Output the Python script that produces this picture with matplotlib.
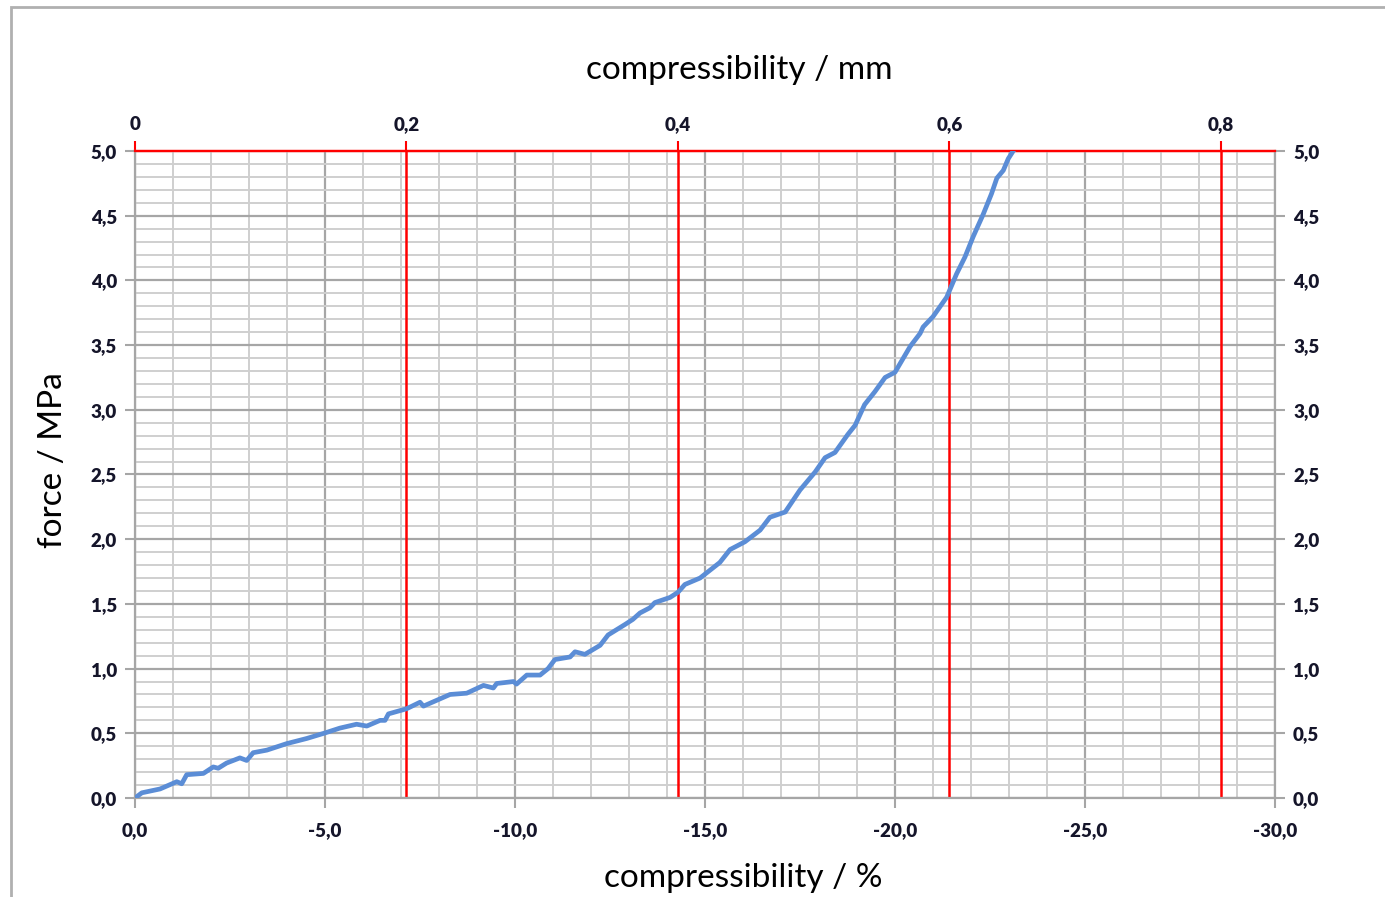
import matplotlib
matplotlib.use("Agg")
import matplotlib.pyplot as plt
from matplotlib.ticker import MultipleLocator, FuncFormatter
from matplotlib.patches import Rectangle

# ---- data ----
compress_pct = [0.0, -0.18, -0.66, -1.10, -1.23, -1.36, -1.80, -2.06, -2.19, -2.41, -2.76, -2.94,
                -3.11, -3.47, -3.99, -4.52, -4.97, -5.39, -5.83, -6.10, -6.45, -6.58, -6.67, -7.15,
                -7.50, -7.59, -8.29, -8.73, -9.17, -9.43, -9.52, -9.96, -10.04, -10.31, -10.66,
                -10.87, -11.05, -11.45, -11.58, -11.84, -12.24, -12.45, -12.89, -13.10, -13.29,
                -13.55, -13.68, -14.08, -14.29, -14.47, -14.87, -15.13, -15.39, -15.66, -16.05,
                -16.45, -16.71, -17.11, -17.50, -17.90, -18.16, -18.42, -18.76, -18.95, -19.20,
                -19.47, -19.74, -20.00, -20.26, -20.40, -20.66, -20.74, -21.00, -21.36, -21.62,
                -21.84, -22.06, -22.32, -22.54, -22.68, -22.85, -22.98, -23.11]
force_mpa = [0.0, 0.04, 0.07, 0.126, 0.11, 0.18, 0.19, 0.24, 0.23, 0.27, 0.31, 0.29,
             0.35, 0.37, 0.42, 0.46, 0.50, 0.54, 0.57, 0.556, 0.60, 0.60, 0.65, 0.69,
             0.74, 0.71, 0.80, 0.81, 0.87, 0.85, 0.885, 0.90, 0.88, 0.95, 0.95,
             1.00, 1.07, 1.09, 1.13, 1.11, 1.18, 1.26, 1.34, 1.38, 1.43,
             1.47, 1.51, 1.55, 1.59, 1.65, 1.70, 1.76, 1.82, 1.92, 1.98,
             2.07, 2.17, 2.21, 2.38, 2.52, 2.63, 2.67, 2.81, 2.88, 3.04,
             3.14, 3.25, 3.29, 3.42, 3.49, 3.59, 3.64, 3.72, 3.87, 4.05,
             4.18, 4.34, 4.51, 4.67, 4.79, 4.85, 4.94, 5.0]
sample_thickness_mm = 2.8
mm_ticks = [0.0, 0.2, 0.4, 0.6, 0.8]
mm_ticklabels = ["0", "0,2", "0,4", "0,6", "0,8"]

def pct_to_mm(p):
    return -p * sample_thickness_mm / 100.0

def mm_to_pct(m):
    return -m * 100.0 / sample_thickness_mm

plt.rcParams['font.family'] = ['Lato', 'DejaVu Sans']

fig = plt.figure(figsize=(13.85, 8.97), dpi=100)
ax = fig.add_axes([135/1385, 1-798/897, (1275-135)/1385, (798-151)/897])

major_grid = '#a6a6a6'
minor_grid = '#cfcfcf'
tick_color = '#15152a'

ax.set_xlim(0, -30)
ax.set_ylim(0, 5)
ax.xaxis.set_major_locator(MultipleLocator(5))
ax.xaxis.set_minor_locator(MultipleLocator(1))
ax.yaxis.set_major_locator(MultipleLocator(0.5))
ax.yaxis.set_minor_locator(MultipleLocator(0.1))
ax.grid(which='major', color=major_grid, lw=1.6, zorder=0)
ax.grid(which='minor', color=minor_grid, lw=1.4, zorder=0)
ax.set_axisbelow(True)

fmt1 = FuncFormatter(lambda v, p: f"{v:.1f}".replace('.', ',').replace('-0,0', '0,0'))
ax.xaxis.set_major_formatter(fmt1)
ax.yaxis.set_major_formatter(fmt1)
ax.tick_params(which='minor', length=0)
ax.tick_params(which='major', direction='out', length=7, width=1.5, color=major_grid,
               labelsize=13.5, labelcolor=tick_color, pad=6)
ax.tick_params(axis='y', which='major', left=True, right=True, labelleft=True, labelright=True)
ax.tick_params(axis='x', which='major', top=False, pad=10)
for lab in ax.get_xticklabels() + ax.get_yticklabels():
    lab.set_fontweight('heavy')

for s in ['left', 'right', 'bottom']:
    ax.spines[s].set_color(major_grid)
    ax.spines[s].set_linewidth(1.6)
ax.spines['top'].set_color('red')
ax.spines['top'].set_linewidth(1.6)

# red reference lines from the mm axis
for m in mm_ticks[1:]:
    ax.axvline(mm_to_pct(m), color='red', lw=1.8, zorder=2)

ax.plot(compress_pct, force_mpa, color='#5b8dd6', lw=3.4, zorder=3, solid_joinstyle='round')

sec = ax.secondary_xaxis('top', functions=(pct_to_mm, mm_to_pct))
sec.set_xticks(mm_ticks)
sec.set_xticklabels(mm_ticklabels)
sec.tick_params(direction='out', length=7, width=1.5, color='red', labelsize=13.5,
                labelcolor=tick_color, pad=6)
for lab in sec.get_xticklabels():
    lab.set_fontweight('heavy')
sec.spines['top'].set_color('red')
sec.spines['top'].set_linewidth(1.6)

fig.text(739/1385, 1-70/897, "compressibility / mm", ha='center', va='center', fontsize=24)
fig.text(743/1385, 1-878/897, "compressibility / %", ha='center', va='center', fontsize=24)
fig.text(53/1385, 1-460/897, "force / MPa", ha='center', va='center', fontsize=24, rotation=90)

fig.patches.append(Rectangle((11/1385, -0.1), 1.2, 1.1 - 7/897, transform=fig.transFigure,
                             fill=False, edgecolor='#b0b0b0', lw=2))

fig.savefig("out.png", dpi=100)
